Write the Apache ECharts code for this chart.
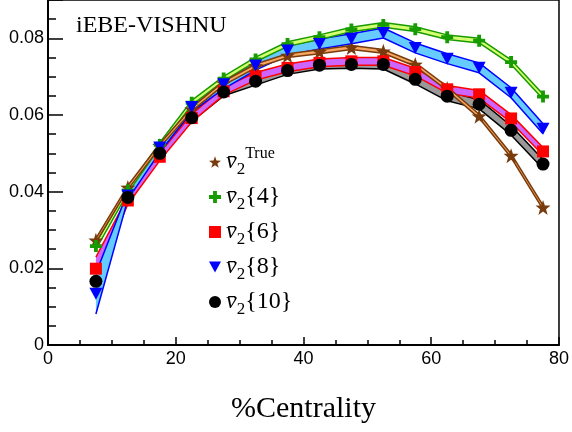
<!DOCTYPE html>
<html><head><meta charset="utf-8">
<script src="https://cdn.jsdelivr.net/npm/echarts@6/dist/echarts.min.js"></script>
<style>html,body{margin:0;padding:0;background:#fff}#c{width:572px;height:432px}</style>
</head><body><div id="c"></div>
<script>
const centrality = [7.5,12.5,17.5,22.5,27.5,32.5,37.5,42.5,47.5,52.5,57.5,62.5,67.5,72.5,77.5];
const v2True = [0.0273,0.0411,0.0520,0.0615,0.0683,0.0728,0.0755,0.0765,0.0776,0.0766,0.0732,0.0669,0.0597,0.0494,0.0359];
const errTrue = [0.0005,0.0005,0.0005,0.0005,0.0005,0.0005,0.0005,0.0005,0.0005,0.0005,0.0005,0.0005,0.0005,0.0005,0.0005];
const v2c4 = [0.0258,0.0403,0.0522,0.0632,0.0695,0.0745,0.0785,0.0803,0.0823,0.0835,0.0824,0.0803,0.0794,0.0738,0.0648];
const err4 = [0.0008,0.0006,0.0006,0.0006,0.0006,0.0006,0.0006,0.0006,0.0006,0.0006,0.0006,0.0006,0.0006,0.0006,0.0006];
const v2c6 = [0.0199,0.0377,0.0491,0.0592,0.0662,0.0701,0.0723,0.0736,0.0740,0.0740,0.0712,0.0667,0.0654,0.0591,0.0505];
const err6 = [0.0030,0.0010,0.0010,0.0010,0.0010,0.0010,0.0010,0.0010,0.0010,0.0010,0.0010,0.0010,0.0010,0.0010,0.0010];
const v2c8 = [0.0134,0.0390,0.0515,0.0621,0.0680,0.0729,0.0768,0.0785,0.0799,0.0814,0.0775,0.0747,0.0723,0.0658,0.0564];
const err8 = [0.0053,0.0010,0.0012,0.0012,0.0012,0.0012,0.0012,0.0013,0.0013,0.0013,0.0013,0.0013,0.0013,0.0013,0.0013];
const v2c10 = [0.0166,0.0385,0.0500,0.0593,0.0660,0.0688,0.0716,0.0730,0.0732,0.0732,0.0693,0.0649,0.0628,0.0560,0.0472];
const err10 = [0.0010,0.0010,0.0010,0.0010,0.0010,0.0010,0.0010,0.0010,0.0010,0.0012,0.0012,0.0012,0.0012,0.0012,0.0012];
const xTicks = [0,20,40,60,80];
const yTicks = [0,0.02,0.04,0.06,0.08];
const seriesNames = ['True','v2{4}','v2{6}','v2{8}','v2{10}'];

const STAR = 'path://M50,0 L61.76,33.82 L97.55,34.55 L69.02,56.18 L79.39,90.45 L50,70 L20.61,90.45 L30.98,56.18 L2.45,34.55 L38.24,33.82 Z';
const PLUS = 'path://M3.4,0H6.6V3.4H10V6.6H6.6V10H3.4V6.6H0V3.4H3.4Z';
const TRI_DOWN = 'path://M0,0L10,0L5,9Z';

function band(vals, errs, stroke, fill) {
  return {
    type:'custom', silent:true, animation:false,
    data: centrality.map((x,i)=>[x, vals[i]-errs[i], vals[i]+errs[i]]),
    encode:{x:0, y:[1,2]},
    renderItem:function(params, api){
      if (params.dataIndexInside !== 0) return;
      const n = params.dataInsideLength;
      const lo = [], hi = [];
      for (let j=0;j<n;j++){
        lo.push(api.coord([api.value(0,j), api.value(1,j)]));
        hi.push(api.coord([api.value(0,j), api.value(2,j)]));
      }
      const poly = lo.concat(hi.slice().reverse());
      return {type:'group', children:[
        {type:'polygon', shape:{points:poly}, style:{fill:fill, stroke:null}},
        {type:'polyline', shape:{points:lo}, style:{fill:null, stroke:stroke, lineWidth:1.5, lineJoin:'round'}},
        {type:'polyline', shape:{points:hi}, style:{fill:null, stroke:stroke, lineWidth:1.5, lineJoin:'round'}}
      ]};
    }
  };
}
function pts(vals){ return centrality.map((x,i)=>[x, vals[i]]); }

const series = [
  band(v2c10, err10, '#000000', '#999999'),
  band(v2c6, err6, '#ff0000', '#cc66ff'),
  band(v2c8, err8, '#0000ff', '#66ccff'),
  band(v2c4, err4, '#1a9a00', '#d4ff70'),
  band(v2True, errTrue, '#7a3b0c', '#f8a860'),
  {name:seriesNames[0], type:'scatter', data:pts(v2True), symbol:STAR, symbolSize:15, itemStyle:{color:'#7a3b0c', opacity:1}},
  {name:seriesNames[1], type:'scatter', data:pts(v2c4), symbol:PLUS, symbolSize:12, itemStyle:{color:'#169c00', opacity:1}},
  {name:seriesNames[2], type:'scatter', data:pts(v2c6), symbol:'rect', symbolSize:12, itemStyle:{color:'#ff0000', opacity:1}},
  {name:seriesNames[3], type:'scatter', data:pts(v2c8), symbol:TRI_DOWN, symbolSize:[13,12], itemStyle:{color:'#0000ff', opacity:1}},
  {name:seriesNames[4], type:'scatter', data:pts(v2c10), symbol:'circle', symbolSize:13, itemStyle:{color:'#000000', opacity:1}}
];

const chart = echarts.init(document.getElementById('c'), null, {renderer:'canvas'});
chart.setOption({
  animation:false,
  backgroundColor:'#fff',
  title:{text:'iEBE-VISHNU', left:71, top:9, textStyle:{fontFamily:'Liberation Serif', fontSize:24, fontWeight:'normal', color:'#000'}},
  grid:{left:48, right:12, top:-1.5, bottom:87, show:true, borderColor:'#000', borderWidth:1.5, backgroundColor:'transparent'},
  legend:{
    data:seriesNames, orient:'vertical', left:204, top:141, itemGap:3, itemWidth:12, itemHeight:12,
    textStyle:{fontFamily:'Liberation Serif', fontSize:24, color:'#000', lineHeight:32,
      rich:{
        v:{fontFamily:'Liberation Serif', fontStyle:'italic', fontSize:24, lineHeight:32},
        s:{fontFamily:'Liberation Serif', fontSize:17, verticalAlign:'bottom', lineHeight:24},
        t:{fontFamily:'Liberation Serif', fontSize:16, verticalAlign:'top', lineHeight:16}
      }},
    formatter:function(name){
      if(name==='True') return '{v|v\u0304}{s|2}{t|True}';
      const k = name.slice(2);
      return '{v|v\u0304}{s|2}' + k;
    }
  },
  xAxis:{type:'value', min:xTicks[0], max:xTicks[xTicks.length-1], interval:20,
    name:'%Centrality', nameLocation:'middle', nameGap:49,
    nameTextStyle:{fontFamily:'Liberation Serif', fontSize:30, color:'#000'},
    axisLine:{show:true, lineStyle:{color:'#000', width:2}},
    axisTick:{show:true, inside:true, length:8, lineStyle:{color:'#000', width:1.5}},
    minorTick:{show:true, splitNumber:4, length:5, lineStyle:{color:'#000', width:1.5}},
    axisLabel:{fontFamily:'Liberation Sans', fontSize:18, color:'#000', margin:5},
    splitLine:{show:false}},
  yAxis:{type:'value', min:yTicks[0], max:0.09, interval:0.02,
    axisLine:{show:true, lineStyle:{color:'#000', width:2}},
    axisTick:{show:true, inside:true, length:15, lineStyle:{color:'#000', width:1.5}},
    minorTick:{show:true, splitNumber:4, length:8, lineStyle:{color:'#000', width:1.5}},
    axisLabel:{fontFamily:'Liberation Sans', fontSize:18, color:'#000', margin:4, showMaxLabel:false,
      formatter:function(v){ return v===0 ? '0' : v.toFixed(2); }},
    splitLine:{show:false}},
  series:series
});
</script></body></html>
